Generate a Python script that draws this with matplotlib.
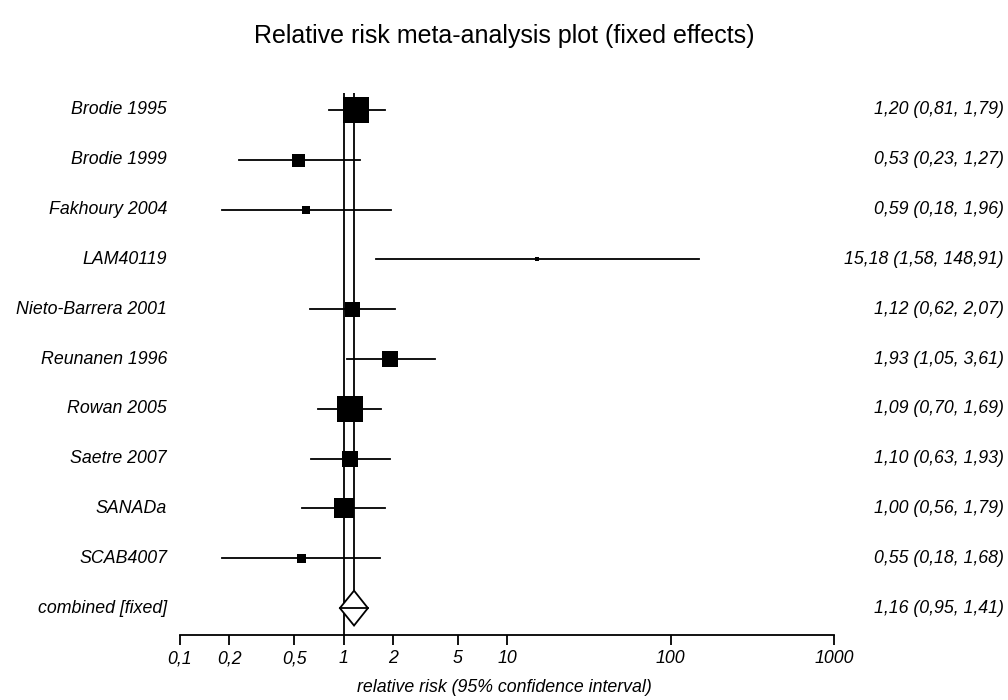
import numpy as np
import matplotlib.pyplot as plt
from matplotlib.transforms import blended_transform_factory

plt.rcParams['font.family'] = ['Liberation Sans', 'DejaVu Sans']

# study data
studies = ['Brodie 1995', 'Brodie 1999', 'Fakhoury 2004', 'LAM40119',
           'Nieto-Barrera 2001', 'Reunanen 1996', 'Rowan 2005', 'Saetre 2007',
           'SANADa', 'SCAB4007']
rr = [1.20, 0.53, 0.59, 15.18, 1.12, 1.93, 1.09, 1.10, 1.00, 0.55]
lo = [0.81, 0.23, 0.18, 1.58, 0.62, 1.05, 0.70, 0.63, 0.56, 0.18]
hi = [1.79, 1.27, 1.96, 148.91, 2.07, 3.61, 1.69, 1.93, 1.79, 1.68]
box_px = [27, 13, 8, 4, 15, 16, 26, 16, 20, 9]   # box side in pixels (weight)

comb_name = 'combined [fixed]'
comb_rr, comb_lo, comb_hi = 1.16, 0.95, 1.41

ticks = [0.1, 0.2, 0.5, 1, 2, 5, 10, 100, 1000]
tick_labels = ['0,1', '0,2', '0,5', '1', '2', '5', '10', '100', '1000']

W, H = 1008, 700
fig = plt.figure(figsize=(W / 100, H / 100), dpi=100)
ax = fig.add_axes([180 / W, 1 - 635 / H, (834 - 180) / W, (635 - 93) / H])

n = len(studies)
ytop, ybot = -0.34, 10.54
ax.set_xscale('log')
ax.set_xlim(0.1, 1000)
ax.set_ylim(ybot, ytop)

def fmt(v):
    return f'{v:.2f}'.replace('.', ',')

lw = 1.3
fs = 12.8
# reference lines: no effect and pooled estimate
ax.plot([1, 1], [ytop, ybot], color='black', lw=lw, zorder=1)
ax.plot([comb_rr, comb_rr], [ytop, n - 0.36], color='black', lw=lw, zorder=1)

for i in range(n):
    ax.plot([lo[i], hi[i]], [i, i], color='black', lw=lw, zorder=2)
    ax.plot(rr[i], i, marker='s', color='black', ms=box_px[i] * 0.72,
            mew=0, zorder=3)

# pooled diamond
dh = 0.35
dx = [comb_lo, comb_rr, comb_hi, comb_rr, comb_lo]
dy = [n, n - dh, n, n + dh, n]
ax.fill(dx, dy, facecolor='white', edgecolor='black', lw=lw, zorder=3)
ax.plot([comb_lo, comb_hi], [n, n], color='black', lw=lw, zorder=4)

# labels on both sides
tr = blended_transform_factory(fig.transFigure, ax.transData)
names = studies + [comb_name]
texts = [f'{fmt(rr[i])} ({fmt(lo[i])}, {fmt(hi[i])})' for i in range(n)]
texts.append(f'{fmt(comb_rr)} ({fmt(comb_lo)}, {fmt(comb_hi)})')
for i in range(n + 1):
    ax.text(167 / W, i, names[i], transform=tr, ha='right', va='center',
            fontsize=fs, style='italic')
    ax.text(1004 / W, i, texts[i], transform=tr, ha='right', va='center',
            fontsize=fs, style='italic')

for s in ['top', 'left', 'right']:
    ax.spines[s].set_visible(False)
ax.spines['bottom'].set_linewidth(lw)
ax.set_yticks([])
ax.set_xticks(ticks)
ax.set_xticklabels(tick_labels, style='italic', fontsize=fs)
ax.xaxis.set_minor_locator(plt.NullLocator())
ax.tick_params(axis='x', direction='out', length=7, width=lw, pad=4)

fig.text(0.5, 1 - 688 / H, 'relative risk (95% confidence interval)',
         ha='center', va='center', fontsize=fs, style='italic')
fig.text(0.5, 1 - 36 / H, 'Relative risk meta-analysis plot (fixed effects)',
         ha='center', va='center', fontsize=18)

fig.savefig('out.png', dpi=100)
